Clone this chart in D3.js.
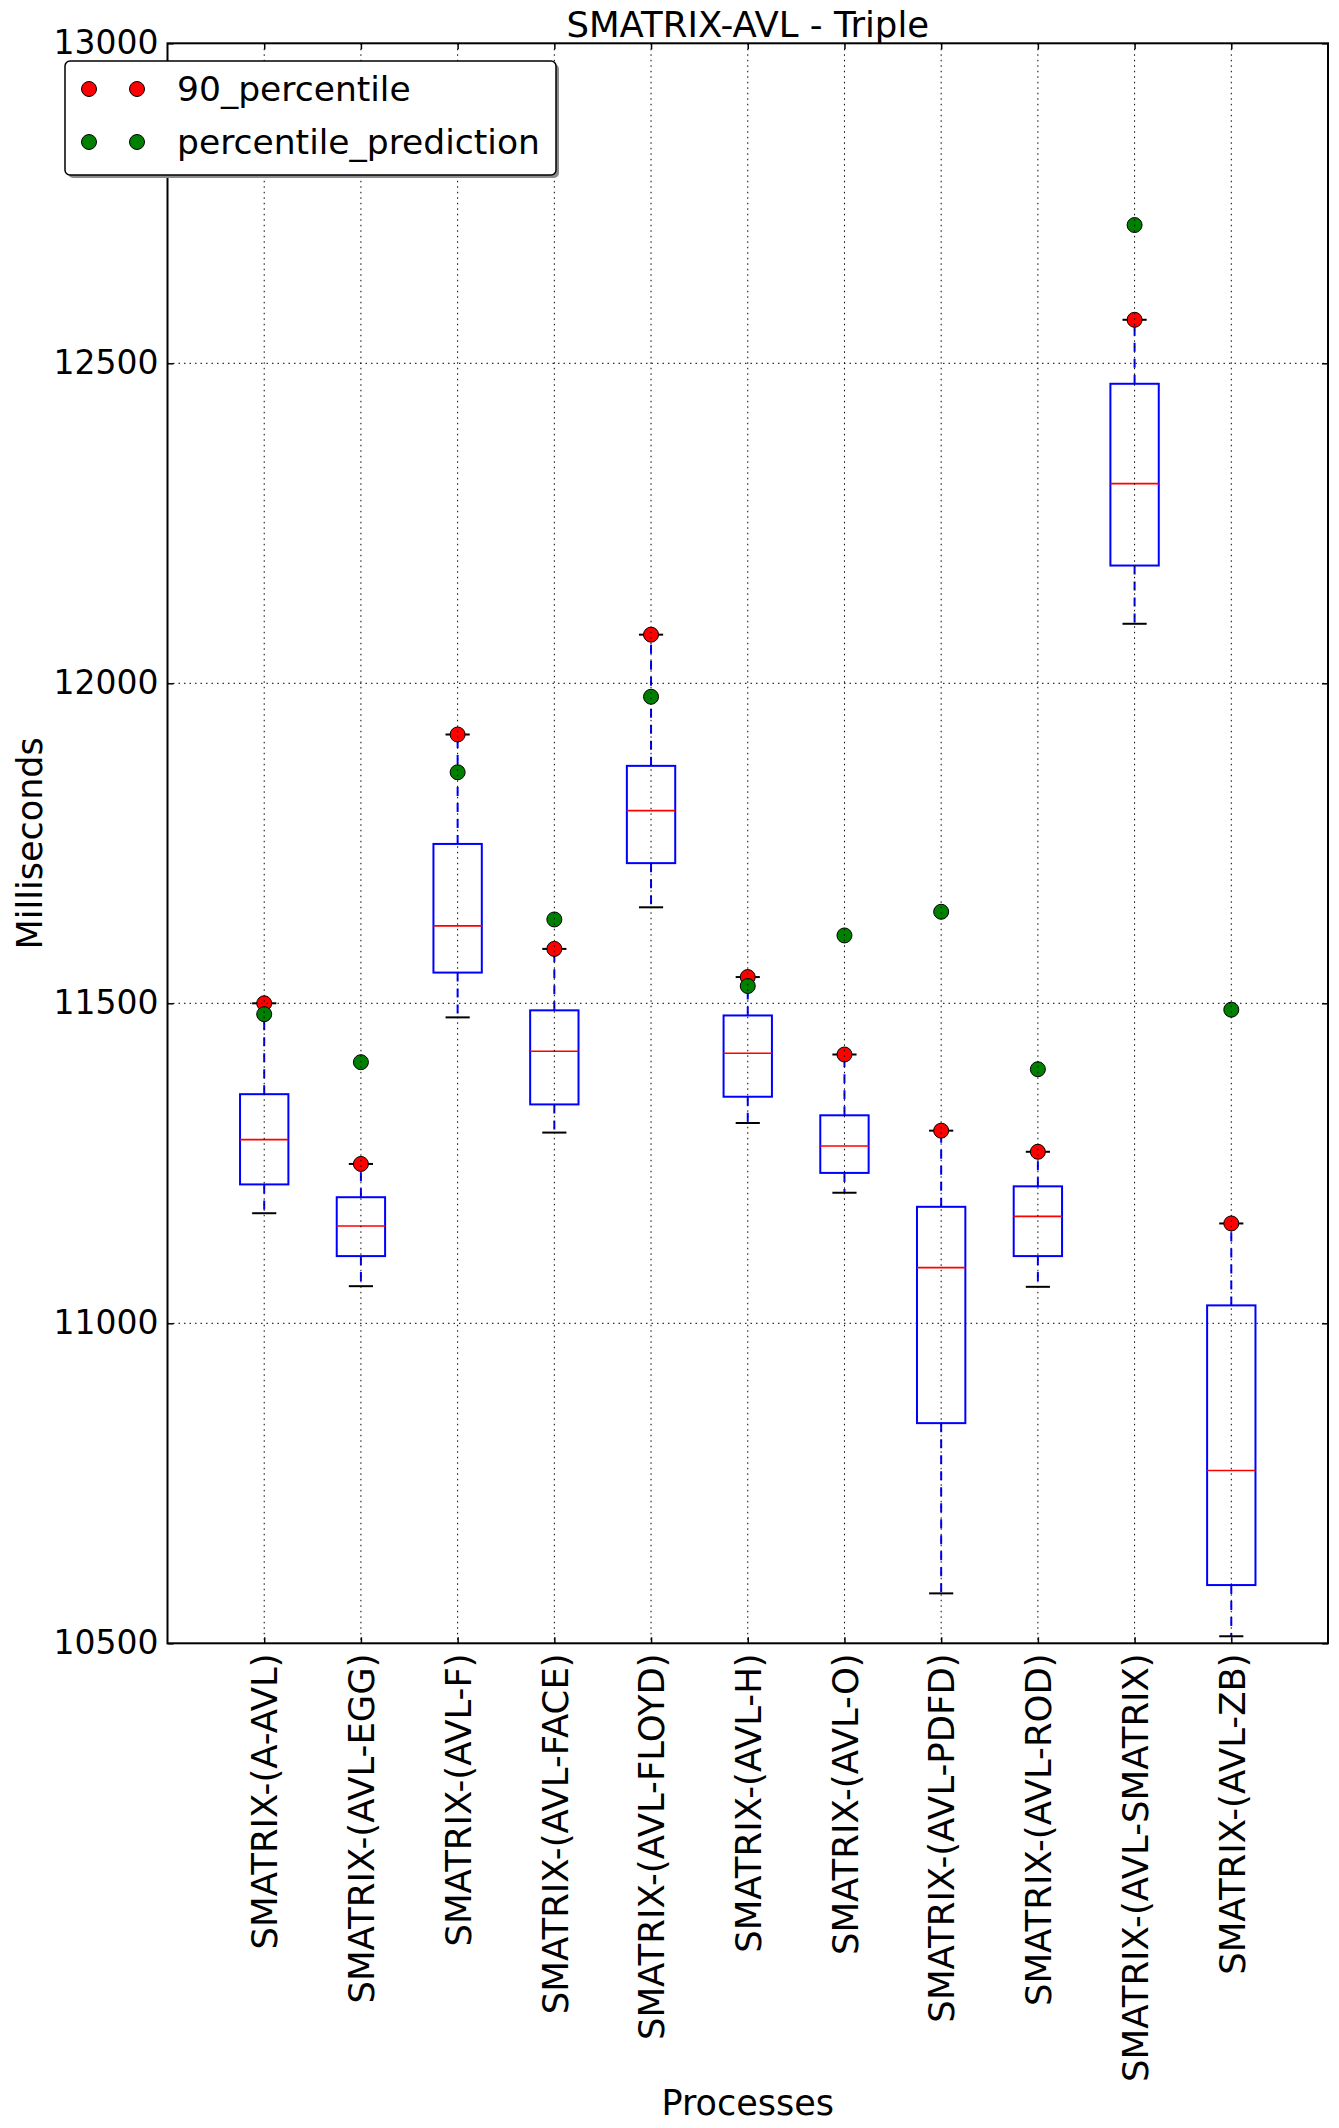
<!DOCTYPE html>
<html>
<head>
	<meta charset="utf-8">
	<title>SMATRIX-AVL - Triple</title>
	<script src="https://d3js.org/d3.v7.min.js"></script>
	<style type="text/css">
		body {
			margin: 0;
			background: white;
		}

		svg text {
			font-family: 'DejaVu Sans', sans-serif;
			fill: black;
		}
	</style>
</head>
<body>
	<script type="text/javascript">
		var categories = ["SMATRIX-(A-AVL)", "SMATRIX-(AVL-EGG)", "SMATRIX-(AVL-F)", "SMATRIX-(AVL-FACE)",
			"SMATRIX-(AVL-FLOYD)", "SMATRIX-(AVL-H)", "SMATRIX-(AVL-O)", "SMATRIX-(AVL-PDFD)",
			"SMATRIX-(AVL-ROD)", "SMATRIX-(AVL-SMATRIX)", "SMATRIX-(AVL-ZB)"];

		// box statistics
		var whiskerHigh = [11500, 11249, 11920, 11585, 12076, 11541, 11420, 11301, 11268, 12568, 11156];
		var q3 = [11358, 11197, 11749, 11489, 11871, 11481, 11325, 11182, 11214, 12468, 11028];
		var median = [11287, 11152, 11621, 11425, 11801, 11422, 11277, 11087, 11167, 12312, 10770];
		var q1 = [11217, 11105, 11548, 11342, 11719, 11354, 11235, 10844, 11105, 12184, 10591];
		var whiskerLow = [11172, 11058, 11478, 11298, 11650, 11313, 11204, 10578, 11057, 12093, 10511];

		var percentile90 = [11500, 11249, 11920, 11585, 12076, 11541, 11420, 11301, 11268, 12568, 11156];
		var percentilePrediction = [11483, 11408, 11861, 11631, 11979, 11527, 11606, 11643, 11397, 12716, 11490];

		var yTicks = [10500, 11000, 11500, 12000, 12500, 13000];

		var w = 1339;
		var h = 2128;
		// note: "top" is reserved on window, so use plot* names
		var plotLeft = 167.5, plotRight = 1328, plotTop = 43.3, plotBottom = 1643.3;

		var svg = d3.select('body')
			.append('svg')
			.attr('width', w)
			.attr('height', h);

		var x = d3.scaleLinear().domain([0, 12]).range([plotLeft, plotRight]);
		var y = d3.scaleLinear().domain([10500, 13000]).range([plotBottom, plotTop]);

		var boxes = categories.map(function (c, i) {
			return {
				pos: i + 1,
				hi: whiskerHigh[i], q3: q3[i], med: median[i], q1: q1[i], lo: whiskerLow[i],
				p90: percentile90[i], pred: percentilePrediction[i]
			};
		});

		var plot = svg.append('g');

		// whiskers
		plot.selectAll('.whisker-up')
			.data(boxes)
			.enter()
			.append('line')
			.attr('x1', d => x(d.pos)).attr('x2', d => x(d.pos))
			.attr('y1', d => y(d.q3)).attr('y2', d => y(d.hi))
			.attr('stroke', 'blue').attr('stroke-width', 2)
			.attr('stroke-dasharray', '9,7');

		plot.selectAll('.whisker-down')
			.data(boxes)
			.enter()
			.append('line')
			.attr('x1', d => x(d.pos)).attr('x2', d => x(d.pos))
			.attr('y1', d => y(d.q1)).attr('y2', d => y(d.lo))
			.attr('stroke', 'blue').attr('stroke-width', 2)
			.attr('stroke-dasharray', '9,7');

		// caps
		var capHalf = 0.125;
		['hi', 'lo'].forEach(function (k) {
			plot.selectAll('.cap-' + k)
				.data(boxes)
				.enter()
				.append('line')
				.attr('x1', d => x(d.pos - capHalf)).attr('x2', d => x(d.pos + capHalf))
				.attr('y1', d => y(d[k])).attr('y2', d => y(d[k]))
				.attr('stroke', 'black').attr('stroke-width', 2);
		});

		// boxes
		var boxHalf = 0.25;
		plot.selectAll('.box')
			.data(boxes)
			.enter()
			.append('rect')
			.attr('x', d => x(d.pos - boxHalf))
			.attr('width', d => x(d.pos + boxHalf) - x(d.pos - boxHalf))
			.attr('y', d => y(d.q3))
			.attr('height', d => y(d.q1) - y(d.q3))
			.attr('fill', 'none')
			.attr('stroke', 'blue')
			.attr('stroke-width', 2);

		// medians
		plot.selectAll('.median')
			.data(boxes)
			.enter()
			.append('line')
			.attr('x1', d => x(d.pos - boxHalf)).attr('x2', d => x(d.pos + boxHalf))
			.attr('y1', d => y(d.med)).attr('y2', d => y(d.med))
			.attr('stroke', 'red').attr('stroke-width', 1.6);

		// percentile markers
		plot.selectAll('.p90')
			.data(boxes)
			.enter()
			.append('circle')
			.attr('cx', d => x(d.pos)).attr('cy', d => y(d.p90))
			.attr('r', 7.5)
			.attr('fill', 'red').attr('stroke', 'black').attr('stroke-width', 1);

		plot.selectAll('.pred')
			.data(boxes)
			.enter()
			.append('circle')
			.attr('cx', d => x(d.pos)).attr('cy', d => y(d.pred))
			.attr('r', 7.5)
			.attr('fill', 'green').attr('stroke', 'black').attr('stroke-width', 1);

		// grid on top (classic style)
		var grid = svg.append('g');
		grid.selectAll('.gx')
			.data(d3.range(1, 12))
			.enter()
			.append('line')
			.attr('x1', d => x(d)).attr('x2', d => x(d))
			.attr('y1', plotTop).attr('y2', plotBottom)
			.attr('stroke', 'black').attr('stroke-width', 1)
			.attr('stroke-dasharray', '1.5,4');
		grid.selectAll('.gy')
			.data(yTicks.slice(1, -1))
			.enter()
			.append('line')
			.attr('x1', plotLeft).attr('x2', plotRight)
			.attr('y1', d => y(d)).attr('y2', d => y(d))
			.attr('stroke', 'black').attr('stroke-width', 1)
			.attr('stroke-dasharray', '1.5,4');

		// axes
		var yAxis = svg.append('g')
			.attr('transform', 'translate(' + plotLeft + ',0)')
			.call(d3.axisLeft(y).tickValues(yTicks).tickFormat(d3.format('d')).tickSize(-6).tickPadding(9));
		yAxis.selectAll('text').style('font-size', '33px');

		svg.append('g')
			.attr('transform', 'translate(' + plotRight + ',0)')
			.call(d3.axisRight(y).tickValues(yTicks).tickFormat('').tickSize(-6));

		var xAxis = svg.append('g')
			.attr('transform', 'translate(0,' + plotBottom + ')')
			.call(d3.axisBottom(x).tickValues(d3.range(1, 12)).tickFormat(d => categories[d - 1]).tickSize(-6));
		xAxis.selectAll('text')
			.style('font-size', '35.5px')
			.attr('text-anchor', 'end')
			.attr('transform', 'rotate(-90)')
			.attr('x', -10)
			.attr('y', 0)
			.attr('dy', '0.36em');

		svg.append('g')
			.attr('transform', 'translate(0,' + plotTop + ')')
			.call(d3.axisTop(x).tickValues(d3.range(1, 12)).tickFormat('').tickSize(-6));

		svg.selectAll('.domain').remove();
		svg.selectAll('.tick line').attr('stroke', 'black').attr('stroke-width', 1.5);

		// frame
		svg.append('rect')
			.attr('x', plotLeft).attr('y', plotTop)
			.attr('width', plotRight - plotLeft).attr('height', plotBottom - plotTop)
			.attr('fill', 'none').attr('stroke', 'black').attr('stroke-width', 2);

		// title and labels
		svg.append('text')
			.attr('x', (plotLeft + plotRight) / 2).attr('y', 37)
			.attr('text-anchor', 'middle')
			.style('font-size', '35.5px')
			.text('SMATRIX-AVL - Triple');

		svg.append('text')
			.attr('x', (plotLeft + plotRight) / 2).attr('y', 2115)
			.attr('text-anchor', 'middle')
			.style('font-size', '35px')
			.text('Processes');

		svg.append('text')
			.attr('transform', 'translate(42,' + ((plotTop + plotBottom) / 2) + ') rotate(-90)')
			.attr('text-anchor', 'middle')
			.style('font-size', '35px')
			.text('Milliseconds');

		// legend
		var legendItems = [
			{ label: '90_percentile', color: 'red' },
			{ label: 'percentile_prediction', color: 'green' }
		];
		var legend = svg.append('g');
		legend.append('rect')
			.attr('x', 68).attr('y', 64)
			.attr('width', 491).attr('height', 114)
			.attr('rx', 5)
			.attr('fill', '#8c8c8c');
		legend.append('rect')
			.attr('x', 65).attr('y', 61)
			.attr('width', 491).attr('height', 114)
			.attr('rx', 5)
			.attr('fill', 'white').attr('stroke', 'black').attr('stroke-width', 1.5);

		var rows = legend.selectAll('.item')
			.data(legendItems)
			.enter()
			.append('g')
			.attr('transform', (d, i) => 'translate(0,' + (89 + i * 53) + ')');
		rows.selectAll('circle')
			.data(d => [d, d])
			.enter()
			.append('circle')
			.attr('cx', (d, i) => 89 + i * 48)
			.attr('cy', 0)
			.attr('r', 7.5)
			.attr('fill', d => d.color)
			.attr('stroke', 'black').attr('stroke-width', 1);
		rows.append('text')
			.attr('x', 177).attr('y', 12)
			.style('font-size', '34.5px')
			.text(d => d.label);
	</script>
</body>
</html>
